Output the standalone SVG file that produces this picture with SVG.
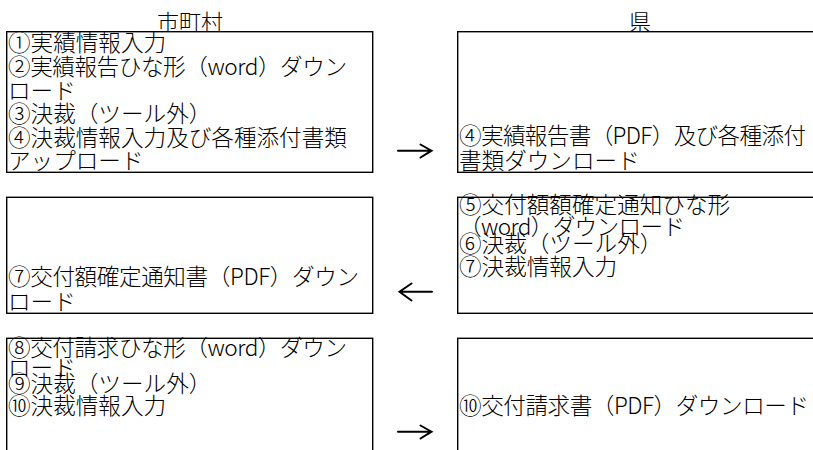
<svg xmlns="http://www.w3.org/2000/svg" width="813" height="450" viewBox="0 0 813 450">
<style>
text{font-family:"Noto Sans CJK JP","Noto Sans CJK SC",sans-serif;font-size:22.6px;font-weight:300;fill:#000}
.box{fill:#fff;stroke:#000;stroke-width:1.4}
.title{text-anchor:middle;font-size:22px}
.conn{fill:none;stroke:#000;stroke-width:2;stroke-linecap:round;stroke-linejoin:miter}
</style>
<rect width="813" height="450" fill="#fff"/>
<g id="headers">
<text class="title" x="190" y="29.5">市町村</text>
<text class="title" x="640" y="29.5">県</text>
</g>
<g id="node-city-1">
<rect class="box" x="6.7" y="31.7" width="366" height="140.6"/>
<text x="8" y="51">①実績情報入力</text>
<text x="8" y="75" textLength="339" lengthAdjust="spacing">②実績報告ひな形（word）ダウン</text>
<text x="8" y="98.5">ロード</text>
<text x="8" y="122">③決裁（ツール外）</text>
<text x="8" y="146">④決裁情報入力及び各種添付書類</text>
<text x="8" y="169">アップロード</text>
</g>
<g id="node-pref-1">
<rect class="box" x="457.7" y="31.7" width="366" height="140.6"/>
<text x="459" y="143.5" textLength="347" lengthAdjust="spacing">④実績報告書（PDF）及び各種添付</text>
<text x="459" y="169">書類ダウンロード</text>
</g>
<g id="node-city-2">
<rect class="box" x="6.7" y="197.3" width="366" height="116"/>
<text x="8" y="285" textLength="351" lengthAdjust="spacing">⑦交付額確定通知書（PDF）ダウン</text>
<text x="8" y="310">ロード</text>
</g>
<g id="node-pref-2">
<rect class="box" x="457.7" y="197.3" width="366" height="116"/>
<text x="459" y="212.5">⑤交付額額確定通知ひな形</text>
<text x="459" y="234.5" textLength="226" lengthAdjust="spacing">（word）ダウンロード</text>
<text x="459" y="251.5">⑥決裁（ツール外）</text>
<text x="459" y="274.5">⑦決裁情報入力</text>
</g>
<g id="node-city-3">
<rect class="box" x="6.7" y="338.3" width="366" height="130"/>
<text x="8" y="356" textLength="339" lengthAdjust="spacing">⑧交付請求ひな形（word）ダウン</text>
<text x="8" y="375.5">ロード</text>
<text x="8" y="392">⑨決裁（ツール外）</text>
<text x="8" y="414">⑩決裁情報入力</text>
</g>
<g id="node-pref-3">
<rect class="box" x="457.7" y="338.3" width="366" height="130"/>
<text x="459" y="414" textLength="350" lengthAdjust="spacing">⑩交付請求書（PDF）ダウンロード</text>
</g>
<g id="connectors">
<path class="conn" d="M398,150.7 H431.5 M420.5,144.5 L431.5,150.7 L420.5,157.5"/>
<path class="conn" d="M432,291.7 H399.5 M411.5,283.5 L399.5,291.7 L411.5,300.5"/>
<path class="conn" d="M398,431.7 H431.5 M420.5,425.5 L431.5,431.7 L420.5,438.5"/>
</g>
</svg>
